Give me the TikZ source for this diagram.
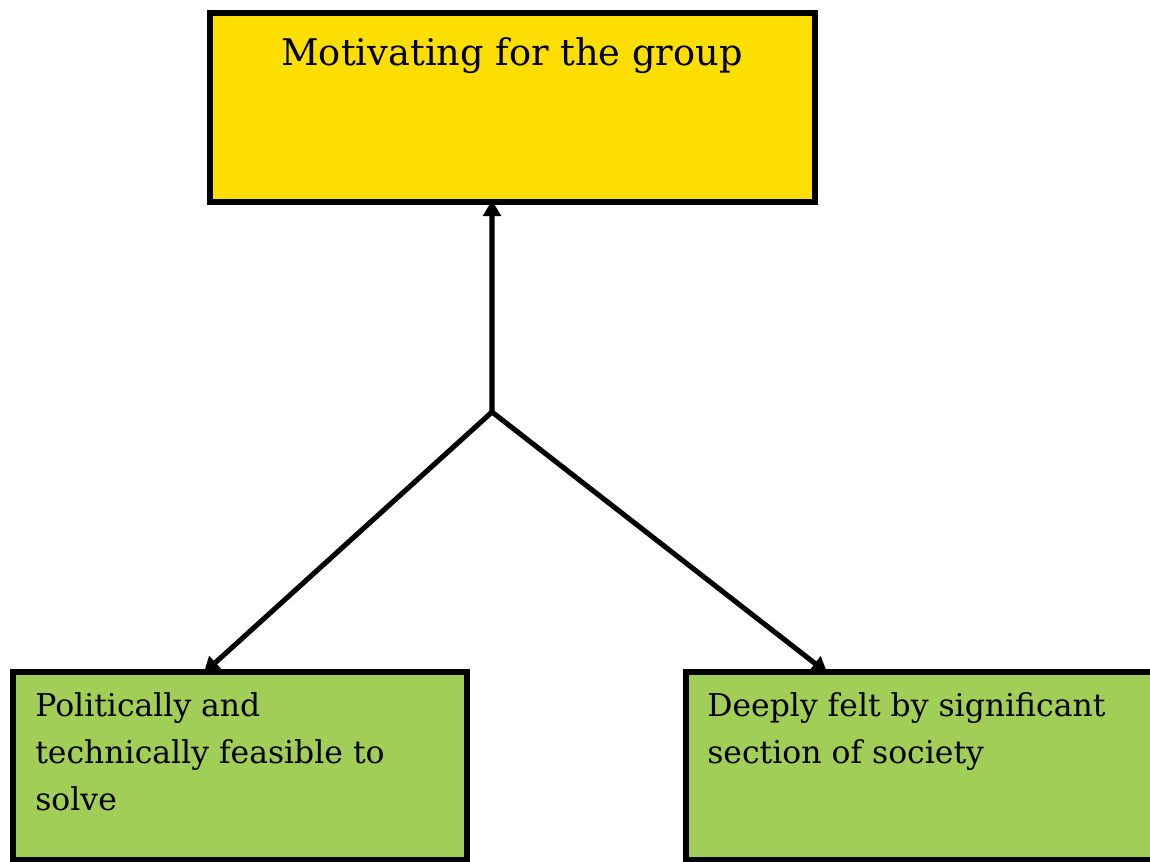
\documentclass[tikz,border=0pt]{standalone}
\usepackage{fontspec}
\setmainfont{DejaVu Serif}
\usetikzlibrary{arrows.meta,calc}
\definecolor{boxyellow}{RGB}{252,222,0}
\definecolor{boxgreen}{RGB}{161,206,86}
\tikzset{
  boxstyle/.style={draw=black,line width=3.3pt,rectangle,inner sep=0pt,outer sep=0pt},
  conn/.style={draw=black,line width=2.9pt,-{Triangle[length=9pt,width=10pt]},shorten >=-1pt},
  bigtext/.style={font=\fontsize{20.9}{26}\selectfont,inner sep=0pt},
  smalltext/.style={font=\fontsize{17.9}{26.7}\selectfont,inner sep=0pt,align=left},
}
\begin{document}
\begin{tikzpicture}[x=0.02cm,y=-0.02cm]
\useasboundingbox (0,0) rectangle (1150,862);
\clip (0,0) rectangle (1150,862);
\node[boxstyle,fill=boxyellow,minimum width=12.1cm,minimum height=3.78cm] (top) at (512.5,107.5) {};
\node[boxstyle,fill=boxgreen,minimum width=9.08cm,minimum height=3.76cm] (left) at (240,766) {};
\node[boxstyle,fill=boxgreen,minimum width=9.48cm,minimum height=3.76cm] (right) at (923,766) {};
\node[bigtext,anchor=base] (toptext) at (512,65) {Motivating for the group};
\node[smalltext,anchor=base west] (lefttext) at (35,810) {Politically and\\technically feasible to\\solve};
\node[smalltext,anchor=base west] (righttext) at (707,763) {Deeply felt by significant\\section of society};
\coordinate (J) at (492,412);
\draw[conn,line cap=round,line join=miter] (J) -- ([xshift=-0.41cm]top.south);
\draw[conn] (J) -- ([xshift=-0.7cm]left.north);
\draw[conn] (J) -- ([xshift=-1.94cm]right.north);
\end{tikzpicture}
\end{document}
